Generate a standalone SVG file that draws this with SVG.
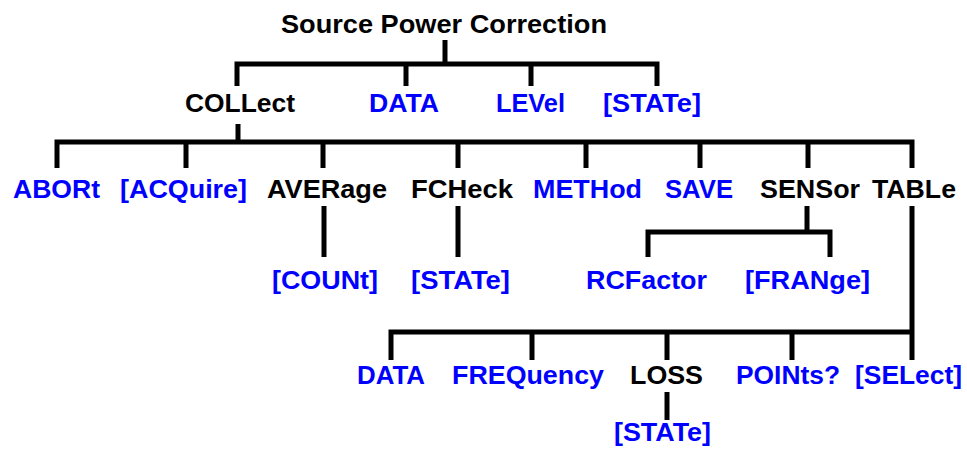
<svg xmlns="http://www.w3.org/2000/svg" width="967" height="449" viewBox="0 0 967 449">
<style>
text{font-family:"Liberation Sans",Arial,sans-serif;font-weight:bold;font-size:26px}
.k{fill:#000}
.b{fill:#0000ff}
.ln{fill:none;stroke:#000;stroke-width:5;stroke-linecap:butt;stroke-linejoin:miter}
</style>
<rect width="967" height="449" fill="#fff"/>
<g id="connectors" class="ln">
<path d="M445,40V64"/>
<path d="M237,86V64H657V86"/>
<path d="M406,64V86M531,64V86"/>
<path d="M238,124V142"/>
<path d="M57,168V142H912V168"/>
<path d="M186,142V168M323,142V168M458,142V168M586,142V168M700,142V168M808,142V168"/>
<path d="M324,206V257M458,206V257"/>
<path d="M807,206V232"/>
<path d="M648,257V232H830V257"/>
<path d="M912,206V360"/>
<path d="M391,360V332H912"/>
<path d="M532,332V360M667,332V360M792,332V360"/>
<path d="M667,392V420"/>
</g>
<g id="n_root"><text class="k" x="281" y="33" textLength="326" lengthAdjust="spacingAndGlyphs">Source Power Correction</text></g>
<g id="n_collect"><text class="k" x="185" y="112" textLength="110" lengthAdjust="spacingAndGlyphs">COLLect</text></g>
<g id="n_data1"><text class="b" x="369" y="112" textLength="70" lengthAdjust="spacingAndGlyphs">DATA</text></g>
<g id="n_level"><text class="b" x="496" y="112" textLength="69" lengthAdjust="spacingAndGlyphs">LEVel</text></g>
<g id="n_state1"><text class="b" x="603" y="112" textLength="98" lengthAdjust="spacingAndGlyphs">[STATe]</text></g>
<g id="n_abort"><text class="b" x="13" y="198" textLength="87" lengthAdjust="spacingAndGlyphs">ABORt</text></g>
<g id="n_acquire"><text class="b" x="120" y="198" textLength="127" lengthAdjust="spacingAndGlyphs">[ACQuire]</text></g>
<g id="n_average"><text class="k" x="267" y="198" textLength="120" lengthAdjust="spacingAndGlyphs">AVERage</text></g>
<g id="n_fcheck"><text class="k" x="411" y="198" textLength="102" lengthAdjust="spacingAndGlyphs">FCHeck</text></g>
<g id="n_method"><text class="b" x="533" y="198" textLength="109" lengthAdjust="spacingAndGlyphs">METHod</text></g>
<g id="n_save"><text class="b" x="665" y="198" textLength="68" lengthAdjust="spacingAndGlyphs">SAVE</text></g>
<g id="n_sensor"><text class="k" x="760" y="198" textLength="100" lengthAdjust="spacingAndGlyphs">SENSor</text></g>
<g id="n_table"><text class="k" x="872" y="198" textLength="84" lengthAdjust="spacingAndGlyphs">TABLe</text></g>
<g id="n_count"><text class="b" x="272" y="289" textLength="106" lengthAdjust="spacingAndGlyphs">[COUNt]</text></g>
<g id="n_state2"><text class="b" x="411" y="289" textLength="99" lengthAdjust="spacingAndGlyphs">[STATe]</text></g>
<g id="n_rcfactor"><text class="b" x="586" y="289" textLength="121" lengthAdjust="spacingAndGlyphs">RCFactor</text></g>
<g id="n_frange"><text class="b" x="745" y="289" textLength="125" lengthAdjust="spacingAndGlyphs">[FRANge]</text></g>
<g id="n_data2"><text class="b" x="357" y="384" textLength="68" lengthAdjust="spacingAndGlyphs">DATA</text></g>
<g id="n_frequency"><text class="b" x="452" y="384" textLength="152" lengthAdjust="spacingAndGlyphs">FREQuency</text></g>
<g id="n_loss"><text class="k" x="630" y="384" textLength="73" lengthAdjust="spacingAndGlyphs">LOSS</text></g>
<g id="n_points"><text class="b" x="736" y="384" textLength="104" lengthAdjust="spacingAndGlyphs">POINts?</text></g>
<g id="n_select"><text class="b" x="855" y="384" textLength="107" lengthAdjust="spacingAndGlyphs">[SELect]</text></g>
<g id="n_state3"><text class="b" x="614" y="441" textLength="97" lengthAdjust="spacingAndGlyphs">[STATe]</text></g>
</svg>
